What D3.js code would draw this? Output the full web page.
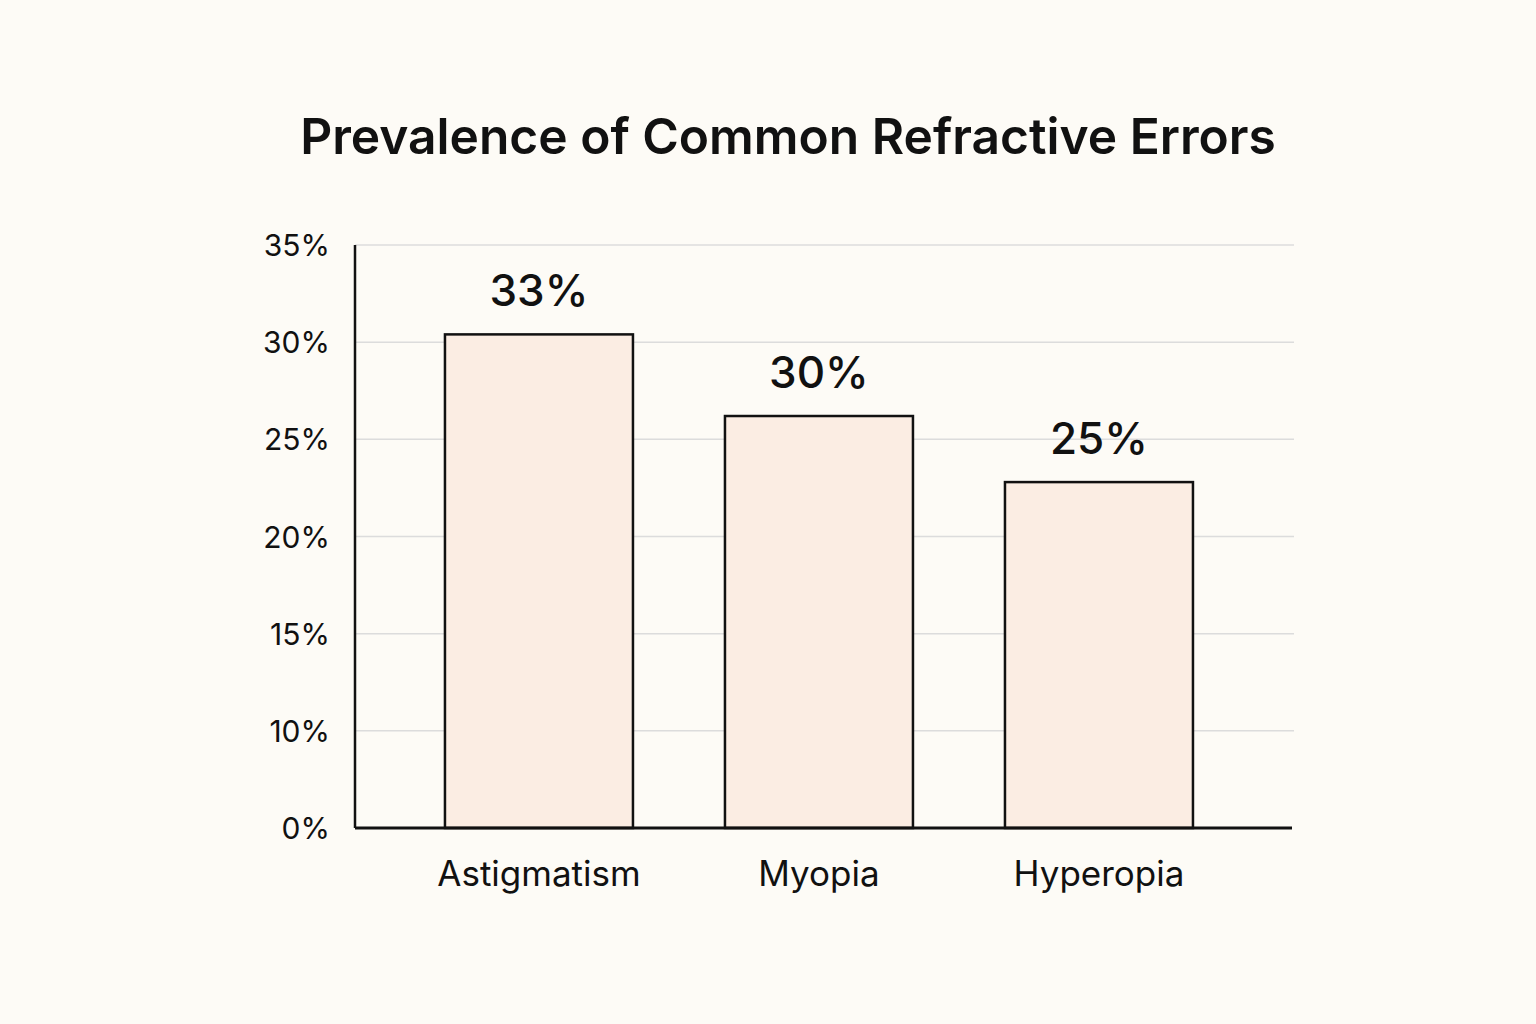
<!DOCTYPE html>
<html>
<head>
<meta charset="utf-8">
<script src="https://cdn.jsdelivr.net/npm/d3@7"></script>
<style>
  html, body { margin: 0; padding: 0; background: #fdfbf6; }
  text { font-family: Inter, "Noto Sans", sans-serif; fill: #111; }
</style>
</head>
<body>
<div id="chart"></div>
<script>
var width = 1536;
var height = 1024;

// data
var categories = ["Astigmatism", "Myopia", "Hyperopia"];
var labelValues = [33, 30, 25];          // printed above each bar
var barValues = [30.4, 26.2, 22.8];      // bar tops as read against the axis
var tickValues = [0, 10, 15, 20, 25, 30, 35];

var svg = d3.select("#chart")
    .append("svg")
    .attr("width", width)
    .attr("height", height);

svg.append("rect")
    .attr("width", width)
    .attr("height", height)
    .attr("fill", "#fdfbf6");

var plotLeft = 355, plotRight = 1292, plotTop = 245, plotBottom = 828;

// axis labels are evenly spaced even though 5% is skipped
var y = d3.scaleLinear()
    .domain(tickValues)
    .range(tickValues.map(function(d, i) {
        return plotBottom - i * (plotBottom - plotTop) / (tickValues.length - 1);
    }));

var x = d3.scaleBand()
    .domain(categories)
    .range([plotLeft, plotRight])
    .paddingInner(0.3286)
    .paddingOuter(0.3375)
    .align(0.476);

//Title
svg.append("text")
    .attr("x", 788)
    .attr("y", 154)
    .attr("text-anchor", "middle")
    .attr("font-size", 49.7)
    .attr("font-weight", 600)
    .text("Prevalence of Common Refractive Errors");

//Gridlines
svg.append("g")
    .selectAll("line")
    .data(tickValues.slice(1))
    .join("line")
    .attr("x1", plotLeft)
    .attr("x2", plotRight + 2)
    .attr("y1", function(d) { return y(d); })
    .attr("y2", function(d) { return y(d); })
    .attr("stroke", "#dcdcdc")
    .attr("stroke-width", 1.5);

//Y axis
var yAxis = svg.append("g")
    .attr("transform", "translate(" + plotLeft + ",0)")
    .call(d3.axisLeft(y).tickValues(tickValues).tickSize(0).tickPadding(25)
        .tickFormat(function(d) { return d + "%"; }));
yAxis.select(".domain").remove();
yAxis.selectAll("text")
    .attr("font-size", 30)
    .attr("dy", "0.35em")
    .style("font-family", "Inter, sans-serif")
    .attr("fill", "#111");

svg.append("line")
    .attr("x1", plotLeft)
    .attr("x2", plotLeft)
    .attr("y1", plotTop)
    .attr("y2", plotBottom)
    .attr("stroke", "#111")
    .attr("stroke-width", 2.5);

//Bars
svg.append("g")
    .selectAll("rect")
    .data(categories)
    .join("rect")
    .attr("x", function(d) { return x(d); })
    .attr("y", function(d, i) { return y(barValues[i]); })
    .attr("width", x.bandwidth())
    .attr("height", function(d, i) { return plotBottom - y(barValues[i]); })
    .attr("fill", "#fbede3")
    .attr("stroke", "#111")
    .attr("stroke-width", 2.5);

//Value labels
svg.append("g")
    .selectAll("text")
    .data(categories)
    .join("text")
    .attr("x", function(d) { return x(d) + x.bandwidth() / 2; })
    .attr("y", function(d, i) { return y(barValues[i]) - 28; })
    .attr("text-anchor", "middle")
    .attr("font-size", 44)
    .attr("font-weight", 500)
    .text(function(d, i) { return labelValues[i] + "%"; });

//Baseline
svg.append("line")
    .attr("x1", plotLeft)
    .attr("x2", plotRight)
    .attr("y1", plotBottom)
    .attr("y2", plotBottom)
    .attr("stroke", "#111")
    .attr("stroke-width", 3);

//Category labels
svg.append("g")
    .selectAll("text")
    .data(categories)
    .join("text")
    .attr("x", function(d) { return x(d) + x.bandwidth() / 2; })
    .attr("y", 886)
    .attr("text-anchor", "middle")
    .attr("font-size", 35)
    .text(function(d) { return d; });
</script>
</body>
</html>
